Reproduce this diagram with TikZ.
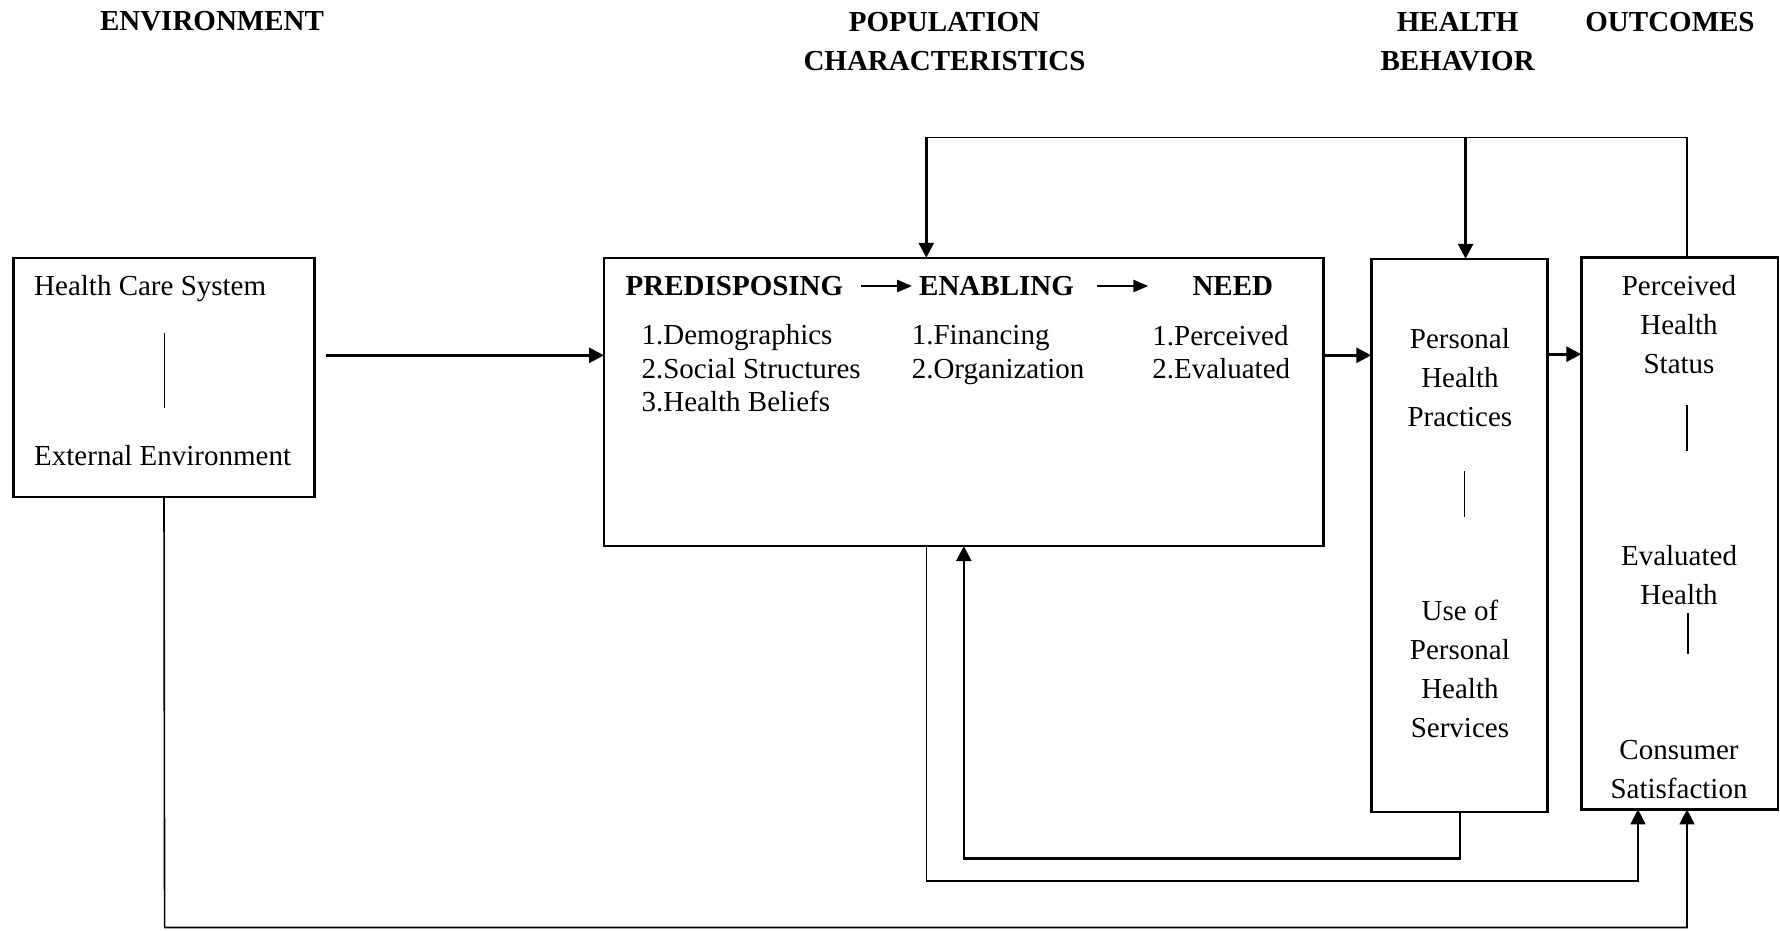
\documentclass[tikz,border=0pt]{standalone}
\usepackage{fontspec}
\setmainfont{Liberation Serif}
\usetikzlibrary{arrows.meta}
\begin{document}
\begin{tikzpicture}[x=1pt,y=-1pt,
  box/.style={draw, line width=2.4pt, inner sep=0pt, outer sep=0pt},
  txt/.style={inner sep=0pt, font=\fontsize{29}{39}\selectfont},
  lst/.style={inner sep=0pt, font=\fontsize{29}{33.5}\selectfont, align=left, anchor=west},
  hdr/.style={inner sep=0pt, font=\fontsize{29}{39.7}\selectfont\bfseries},
  thinline/.style={line width=1.6pt},
  thickline/.style={line width=2.6pt},
  arr/.style={-{Triangle[length=15pt,width=15pt]}},
  sarr/.style={-{Triangle[length=15pt,width=12pt]}}]
\useasboundingbox (0,0) rectangle (1780,930);

% boxes
\node[box, minimum width=301pt, minimum height=239.5pt] (env) at (164,377.5) {};
\node[box, minimum width=719.6pt, minimum height=288.3pt] (pop) at (963.8,401.9) {};
\node[box, minimum width=176pt, minimum height=553pt] (beh) at (1459.3,535.3) {};
\node[box, minimum width=196.4pt, minimum height=551.7pt] (out) at (1679.5,533.5) {};

% titles
\node[hdr] (tenv) at (212,21.6) {ENVIRONMENT};
\node[hdr, align=center] (tpop) at (944.5,41.5) {POPULATION\\CHARACTERISTICS};
\node[hdr, align=center] (tbeh) at (1457.6,41.5) {HEALTH\\BEHAVIOR};
\node[hdr] (tout) at (1670,21.6) {OUTCOMES};

% environment box
\node[txt, anchor=west] (hcs) at (34,288.4) {Health Care System};
\node[txt, anchor=west] (ext) at (34,456) {External Environment};
\draw[thinline] (164.6,332.6) -- (164.6,407.5);

% population box
\node[hdr, anchor=west] (pred) at (625.5,286) {PREDISPOSING};
\node[hdr, anchor=west] (enab) at (919,286) {ENABLING};
\node[hdr] (need) at (1232.8,286) {NEED};
\draw[thickline, sarr] ([xshift=18pt]pred.east) -- ([xshift=-7pt]enab.west);
\draw[thickline, sarr] ([xshift=23pt]enab.east) -- ([xshift=-44pt]need.west);
\node[lst] (plist) at (641.4,368.5) {1.Demographics\\2.Social Structures\\3.Health Beliefs};
\node[lst] (elist) at (911.6,354.8) {1.Financing\\2.Organization};
\node[lst] (nlist) at (1152.2,352) {1.Perceived\\2.Evaluated};

% behavior box
\node[txt, align=center] (php) at (1459.9,377.5) {Personal\\Health\\Practices};
\draw[thinline] (1464.4,471) -- (1464.4,516.5);
\node[txt, align=center] (uph) at (1459.9,669.2) {Use of\\Personal\\Health\\Services};

% outcomes box
\node[txt, align=center] (phs) at (1679,324.7) {Perceived\\Health\\Status};
\draw[thinline] (1687,405.3) -- (1687,450.7);
\node[txt, align=center] (evh) at (1679,575.5) {Evaluated\\Health};
\draw[thinline] (1688,613) -- (1688,653.9);
\node[txt, align=center] (cs) at (1679,769.7) {Consumer\\Satisfaction};

% main flow
\coordinate (a1) at (326,355.3);
\coordinate (a2) at (0,354.2);
\draw[thickline, arr] (a1) -- (a1 -| pop.west);
\draw[thickline, arr] (pop.east |- a1) -- (beh.west |- a1);
\draw[thickline, arr] (beh.east |- a2) -- (out.west |- a2);

% top feedback
\coordinate (tr) at (1687,137.4);
\coordinate (tl) at (926.3,137.4);
\coordinate (tm) at (1465.6,137.4);
\draw[thinline] (tr |- out.north) -- (tr) -- (tl);
\draw[thickline, arr] (tl) -- (tl |- pop.north);
\draw[thickline, arr] (tm) -- (tm |- beh.north);

% bottom feedback
\coordinate (b1) at (1459.9,858.2);
\coordinate (b1l) at (963.8,858.2);
\draw[thickline, arr] (b1 |- beh.south) -- (b1) -- (b1l) -- (b1l |- pop.south);
\coordinate (b2) at (926.3,881);
\coordinate (b2r) at (1638,881);
\draw[thinline, arr] (b2 |- pop.south) -- (b2) -- (b2r) -- (b2r |- out.south);
\coordinate (b3) at (164.6,927.5);
\coordinate (b3r) at (1687,927.5);
\draw[thinline, arr] (env.south) -- (b3) -- (b3r) -- (b3r |- out.south);
\end{tikzpicture}
\end{document}
